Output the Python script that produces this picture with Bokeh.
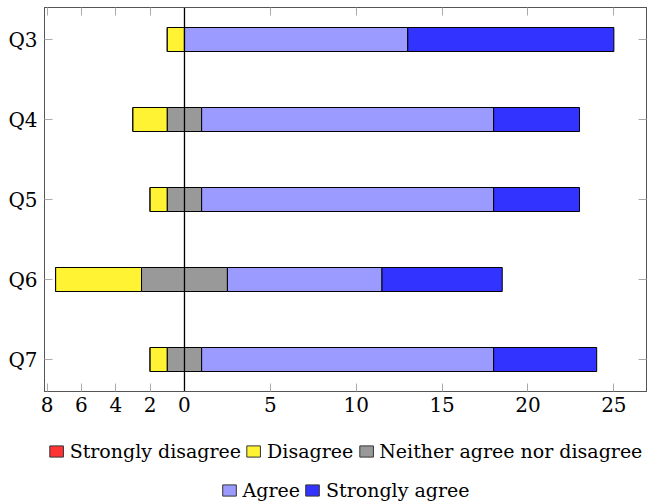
from bokeh.plotting import figure
from bokeh.layouts import column
from bokeh.models import Span, Legend, LegendItem, FixedTicker, LinearAxis, CustomLabelingPolicy
from bokeh.embed import file_html
from bokeh.resources import INLINE

questions = ["Q3", "Q4", "Q5", "Q6", "Q7"]
strongly_disagree = [0, 0, 0, 0, 0]
disagree = [1, 2, 1, 5, 1]
neutral = [0, 2, 2, 5, 2]
agree = [13, 17, 17, 9, 17]
strongly_agree = [12, 5, 5, 7, 6]
x_ticks = [-8, -6, -4, -2, 0, 5, 10, 15, 20, 25]
categories = ["Strongly disagree", "Disagree", "Neither agree nor disagree", "Agree", "Strongly agree"]
colors = ["#ff3333", "#fff333", "#999999", "#9b9bff", "#3333ff"]

n = len(questions)
ypos = [n - 1 - i for i in range(n)]

nl = [-v / 2 for v in neutral]
nr = [v / 2 for v in neutral]
d_left = [a - b for a, b in zip(nl, disagree)]
sd_left = [a - b for a, b in zip(d_left, strongly_disagree)]
a_right = [a + b for a, b in zip(nr, agree)]
sa_right = [a + b for a, b in zip(a_right, strongly_agree)]

FONT = "DejaVu Serif"
FS = "20px"
W = 650
p = figure(width=W, height=430, x_range=(-8.15, 26.9), y_range=(-0.4, n - 0.6),
           output_backend="svg", toolbar_location=None,
           min_border_left=44, min_border_right=4, min_border_top=7, min_border_bottom=39)
p.grid.visible = False
p.outline_line_color = "#555555"
p.outline_line_width = 1

H = 0.3
spans = [(sd_left, d_left), (d_left, nl), (nl, nr), (nr, a_right), (a_right, sa_right)]
for (l, r), c in zip(spans, colors):
    p.hbar(y=ypos, left=l, right=r, height=H, fill_color=c, line_color="black", line_width=1)

p.add_layout(Span(location=0, dimension="height", line_color="black", line_width=1.3))

no_labels = CustomLabelingPolicy(code="""
for (let i = 0; i < indices.size; i++) { indices.unset(i) }
return indices
""")

def style_axis(ax, labels=True):
    ax.major_tick_in = 8
    ax.major_tick_out = 0
    ax.minor_tick_line_color = None
    ax.major_tick_line_color = "#aaaaaa"
    ax.axis_line_color = "#555555"
    ax.major_label_text_font = FONT
    ax.major_label_text_color = "black"
    if labels:
        ax.major_label_text_font_size = FS
        ax.major_label_standoff = 5
    else:
        ax.major_label_text_font_size = "1px"
        ax.major_label_standoff = 0
        ax.major_label_policy = no_labels

p.xaxis.ticker = FixedTicker(ticks=x_ticks)
p.xaxis.major_label_overrides = {t: str(abs(t)) for t in x_ticks}
style_axis(p.xaxis[0])
p.yaxis.ticker = FixedTicker(ticks=ypos)
p.yaxis.major_label_overrides = {y: q for y, q in zip(ypos, questions)}
style_axis(p.yaxis[0])
p.yaxis.major_label_standoff = 7

top = LinearAxis(ticker=FixedTicker(ticks=x_ticks))
style_axis(top, labels=False)
p.add_layout(top, "above")
right = LinearAxis(ticker=FixedTicker(ticks=ypos))
style_axis(right, labels=False)
p.add_layout(right, "right")

# legend panel (swatch renderers sit outside the visible range)
lg = figure(width=W, height=73, x_range=(0, 1), y_range=(0, 1),
            output_backend="svg", toolbar_location=None,
            x_axis_type=None, y_axis_type=None,
            min_border_left=0, min_border_right=0, min_border_top=0, min_border_bottom=0)
lg.grid.visible = False
lg.outline_line_color = None
swatches = [lg.hbar(y=[-5], left=[0], right=[1], height=0.1, fill_color=c,
                    line_color="#333333", line_width=1) for c in colors]

def make_legend(idx, loc, margin):
    return Legend(items=[LegendItem(label=categories[i], renderers=[swatches[i]]) for i in idx],
                  orientation="horizontal", location=loc,
                  border_line_color=None, background_fill_alpha=0,
                  label_text_font=FONT, label_text_font_size="19px", label_text_color="black",
                  glyph_width=17, glyph_height=14, spacing=4, label_standoff=5,
                  padding=0, margin=margin)

lg.add_layout(make_legend([0, 1, 2], "top_center", 10))
lg.add_layout(make_legend([3, 4], "bottom_center", 2))

layout = column(p, lg, spacing=0)
open("out.html", "w").write(file_html(layout, INLINE))
